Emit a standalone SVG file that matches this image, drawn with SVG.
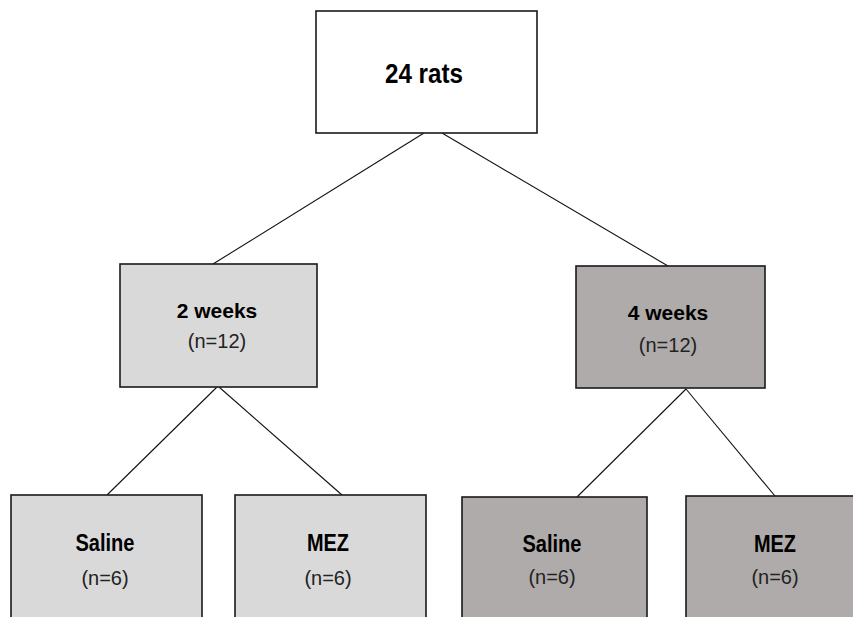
<svg xmlns="http://www.w3.org/2000/svg" width="853" height="617" viewBox="0 0 853 617">
<style>
.box{stroke:#1a1a1a;stroke-width:1.6}
.w{fill:#ffffff}
.l{fill:#d9d9d9}
.d{fill:#afabaa}
.t{font-family:"Liberation Sans",Arial,sans-serif;font-weight:bold;fill:#000;text-anchor:middle}
.n{font-family:"Liberation Sans",Arial,sans-serif;font-size:20px;fill:#222;text-anchor:middle}
.c line{stroke:#111;stroke-width:1.1}
</style>
<rect width="853" height="617" fill="#fff"/>
<g class="c" id="connectors">
<line x1="424" y1="133" x2="213" y2="264"/>
<line x1="442" y1="133" x2="668" y2="266"/>
<line x1="217" y1="387" x2="107" y2="495"/>
<line x1="219" y1="387" x2="342" y2="495"/>
<line x1="686" y1="389" x2="577" y2="497"/>
<line x1="686" y1="389" x2="775" y2="496"/>
</g>
<g id="n-rats">
<rect class="box w" x="316" y="11" width="221" height="122"/>
<text class="t" x="424" y="83" font-size="27" textLength="78" lengthAdjust="spacingAndGlyphs">24 rats</text>
</g>
<g id="n-2weeks">
<rect class="box l" x="120" y="264" width="197" height="123"/>
<text class="t" x="217" y="318" font-size="21">2 weeks</text>
<text class="n" x="217" y="348">(n=12)</text>
</g>
<g id="n-4weeks">
<rect class="box d" x="576" y="266" width="189" height="122"/>
<text class="t" x="668" y="320" font-size="21">4 weeks</text>
<text class="n" x="668" y="352">(n=12)</text>
</g>
<g id="n-saline2">
<rect class="box l" x="11" y="495" width="191" height="140"/>
<text class="t" x="105" y="551" font-size="23" textLength="59" lengthAdjust="spacingAndGlyphs">Saline</text>
<text class="n" x="105" y="585">(n=6)</text>
</g>
<g id="n-mez2">
<rect class="box l" x="235" y="495" width="191" height="140"/>
<text class="t" x="328" y="551" font-size="23" textLength="42" lengthAdjust="spacingAndGlyphs">MEZ</text>
<text class="n" x="328" y="585">(n=6)</text>
</g>
<g id="n-saline4">
<rect class="box d" x="462" y="497" width="185" height="140"/>
<text class="t" x="552" y="552" font-size="23" textLength="59" lengthAdjust="spacingAndGlyphs">Saline</text>
<text class="n" x="552" y="584">(n=6)</text>
</g>
<g id="n-mez4">
<rect class="box d" x="686" y="496" width="190" height="140"/>
<text class="t" x="775" y="552" font-size="23" textLength="42" lengthAdjust="spacingAndGlyphs">MEZ</text>
<text class="n" x="775" y="584">(n=6)</text>
</g>
</svg>
